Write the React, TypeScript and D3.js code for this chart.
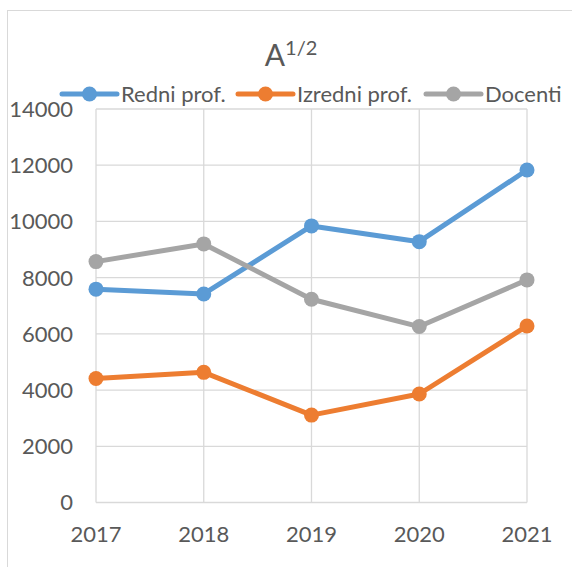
import React, { useEffect, useRef } from "react";
import * as d3 from "d3";

// chart values
const years = ["2017", "2018", "2019", "2020", "2021"];
const redni = [7590, 7420, 9840, 9280, 11830];
const izredni = [4410, 4630, 3110, 3860, 6280];
const docenti = [8570, 9200, 7230, 6260, 7920];
const yTicks = [0, 2000, 4000, 6000, 8000, 10000, 12000, 14000];

const seriesNames = ["Redni prof.", "Izredni prof.", "Docenti"];
const seriesColors = ["#5B9BD5", "#ED7D31", "#A5A5A5"];

export default function App() {
  const ref = useRef<SVGSVGElement>(null);

  useEffect(() => {
    const svg = d3.select(ref.current);
    svg.selectAll("*").remove();

    const font = "Lato, 'Liberation Sans', sans-serif";
    const textColor = "#595959";
    const gridColor = "#D9D9D9";

    // chart border
    svg.append("rect")
      .attr("x", 7.5).attr("y", 10.5)
      .attr("width", 700).attr("height", 700)
      .attr("fill", "#fff")
      .attr("stroke", gridColor)
      .attr("stroke-width", 1);

    const x = d3.scalePoint<string>()
      .domain(years)
      .range([96, 527]);

    const y = d3.scaleLinear()
      .domain([0, 14000])
      .range([502.5, 109]);

    // horizontal gridlines
    svg.append("g")
      .selectAll("line")
      .data(yTicks)
      .enter().append("line")
      .attr("x1", 96).attr("x2", 527)
      .attr("y1", d => y(d)).attr("y2", d => y(d))
      .attr("stroke", gridColor)
      .attr("stroke-width", 1.3);

    // vertical gridlines
    svg.append("g")
      .selectAll("line")
      .data(years)
      .enter().append("line")
      .attr("x1", d => x(d)!).attr("x2", d => x(d)!)
      .attr("y1", y(14000)).attr("y2", y(0))
      .attr("stroke", gridColor)
      .attr("stroke-width", 1.3);

    // y labels
    svg.append("g")
      .selectAll("text")
      .data(yTicks)
      .enter().append("text")
      .attr("x", 73)
      .attr("y", d => y(d))
      .attr("dy", "0.36em")
      .attr("text-anchor", "end")
      .style("font-family", font)
      .style("font-size", "22px")
      .style("fill", textColor)
      .text(d => String(d));

    // x labels
    svg.append("g")
      .selectAll("text")
      .data(years)
      .enter().append("text")
      .attr("x", d => x(d)!)
      .attr("y", 542)
      .attr("text-anchor", "middle")
      .style("font-family", font)
      .style("font-size", "22px")
      .style("fill", textColor)
      .text(d => d);

    // lines
    const allSeries = [redni, izredni, docenti];
    const line = d3.line<number>()
      .x((d, i) => x(years[i])!)
      .y(d => y(d));

    allSeries.forEach((vals, s) => {
      svg.append("path")
        .datum(vals)
        .attr("d", line)
        .attr("fill", "none")
        .attr("stroke", seriesColors[s])
        .attr("stroke-width", 5)
        .attr("stroke-linejoin", "round")
        .attr("stroke-linecap", "round");

      svg.append("g")
        .selectAll("circle")
        .data(vals)
        .enter().append("circle")
        .attr("cx", (d, i) => x(years[i])!)
        .attr("cy", d => y(d))
        .attr("r", 7.5)
        .attr("fill", seriesColors[s]);
    });

    // title
    const title = svg.append("text")
      .attr("x", 291)
      .attr("y", 66)
      .attr("text-anchor", "middle")
      .style("font-family", font)
      .style("fill", textColor);
    title.append("tspan").style("font-size", "30px").text("A");
    title.append("tspan")
      .style("font-size", "20px")
      .attr("dy", -11)
      .text("1/2");

    // legend
    const legendX = [62, 238, 426];
    const legend = svg.selectAll(".legend")
      .data(seriesNames)
      .enter().append("g")
      .attr("class", "legend")
      .attr("transform", (d, i) => "translate(" + legendX[i] + ",94)");

    legend.append("line")
      .attr("x1", 0).attr("x2", 55)
      .attr("stroke", (d, i) => seriesColors[i])
      .attr("stroke-width", 5)
      .attr("stroke-linecap", "round");

    legend.append("circle")
      .attr("cx", 27.5)
      .attr("r", 7.5)
      .attr("fill", (d, i) => seriesColors[i]);

    legend.append("text")
      .attr("x", 59)
      .attr("y", 7.5)
      .style("font-family", font)
      .style("font-size", "22px")
      .style("fill", textColor)
      .text(d => d);
  }, []);

  return (
    <svg
      ref={ref}
      width={572}
      height={567}
      style={{ position: "absolute", left: 0, top: 0, background: "#fff" }}
    />
  );
}
